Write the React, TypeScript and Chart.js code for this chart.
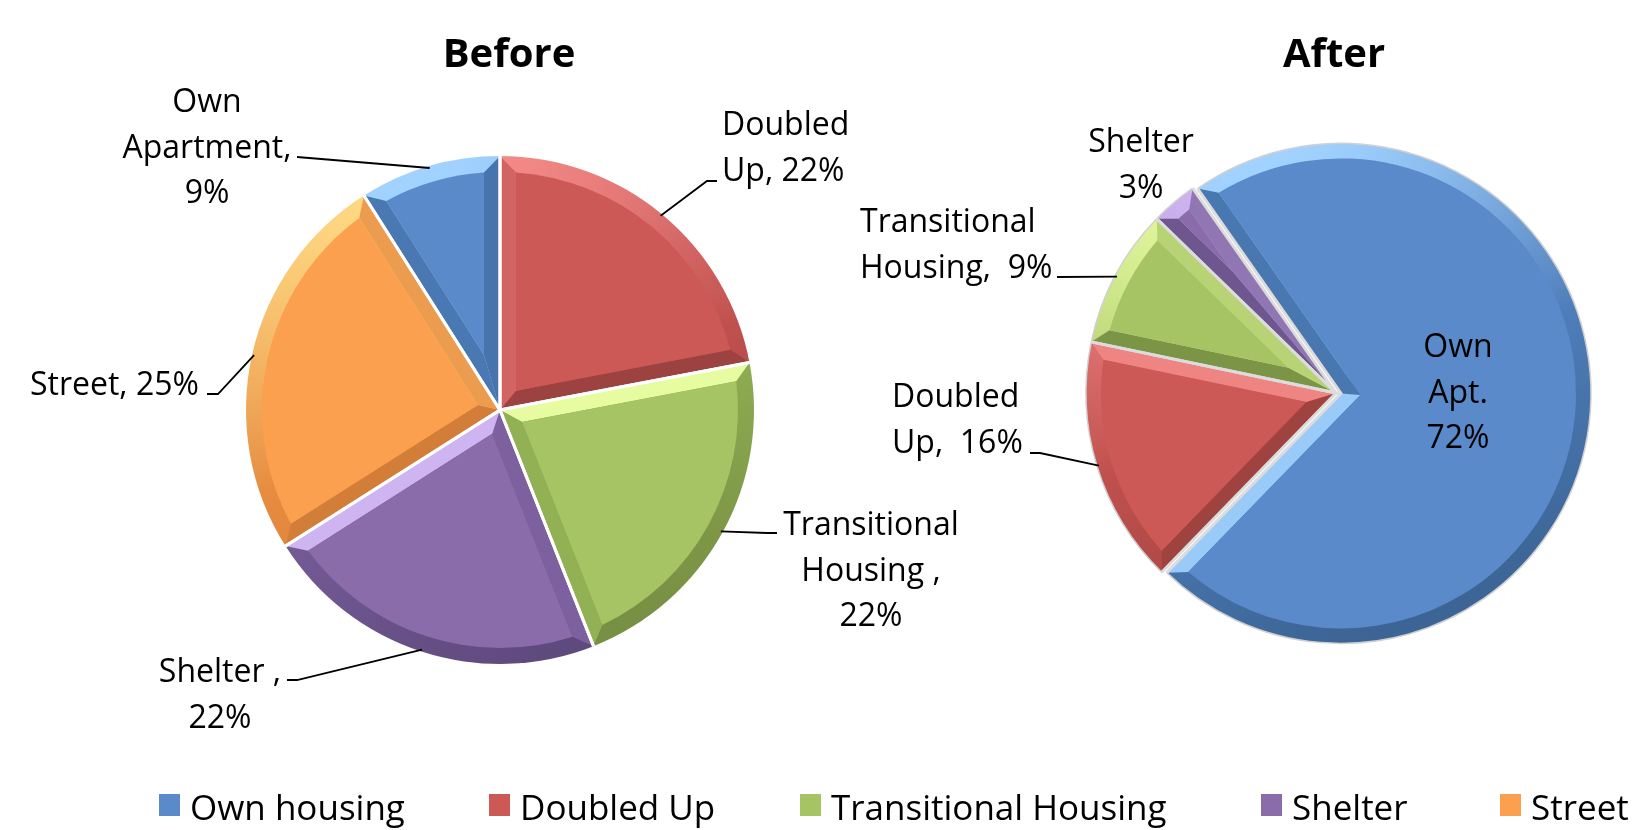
import React, { useEffect, useRef } from 'react';
import { Chart, registerables } from 'chart.js';
Chart.register(...registerables);

// ---------- data ----------
const categories = ['Own housing', 'Doubled Up', 'Transitional Housing', 'Shelter', 'Street'];
const beforeValues = [9, 22, 22, 22, 25];
const afterValues = [72, 16, 9, 3, 0];
const beforeLabelText = ['Own\nApartment,\n{v}%', 'Doubled\nUp, {v}%', 'Transitional\nHousing ,\n{v}%', 'Shelter ,\n{v}%', 'Street, {v}%'];
const afterLabelText = ['Own\nApt.\n{v}%', 'Doubled\nUp,  {v}%', 'Transitional\nHousing,  {v}%', 'Shelter\n{v}%', ''];
const chartTitles = ['Before', 'After'];

// ---------- style ----------
const W = 1637, H = 830;
const mainColors = ['#5A8ACA', '#CD5957', '#A6C463', '#8A6CAB', '#FBA04E'];
const palettes = [
  { light: '#A2D2FF', base: '#4E7DBA', dark: '#3C6494' },
  { light: '#F78E8C', base: '#BF504E', dark: '#9C4240' },
  { light: '#E8FCA2', base: '#93B254', dark: '#778F43' },
  { light: '#D0B6F2', base: '#7A5F9C', dark: '#5F4A7E' },
  { light: '#FFDA84', base: '#E68B40', dark: '#D37E38' },
];
const LIGHT = (-110 * Math.PI) / 180;
const LINE_H = 45.5;
const LABEL_FONT = '32px "Open Sans"';
const TITLE_FONT = 'bold 40px "Open Sans"';
const LEGEND_FONT = '35px "Open Sans"';

const BEFORE = { cx: 500, cy: 410, r: 254, bevel: 16, rotation: -32.4 };
const AFTER = { cx: 1336, cy: 393, r: 250, bevel: 15, rotation: -35 };
const afterExplode = [5, 0, 0, 0, 0];

const beforeLayout = [
  { x: 207, y: 112, align: 'center', line: [[297, 157]] },
  { x: 722, y: 135, align: 'left', line: [[717, 181], [707, 181]] },
  { x: 871, y: 535, align: 'center', line: [[777, 533], [767, 533]] },
  { x: 220, y: 682, align: 'center', line: [[287, 680], [297, 680]] },
  { x: 199, y: 395, align: 'right', line: [[207, 394], [218, 394]] },
];
const afterLayout = [
  { x: 1458, y: 357, align: 'center', line: null },
  { x: 892, y: 407, align: 'left', line: [[1030, 453], [1040, 453]] },
  { x: 860, y: 232, align: 'left', line: [[1057, 277]] },
  { x: 1141, y: 152, align: 'center', line: null },
  null,
];
const legendX = [159, 489, 800, 1261, 1500];

// ---------- helpers ----------
function hexToRgb(h: string) {
  const n = parseInt(h.slice(1), 16);
  return [(n >> 16) & 255, (n >> 8) & 255, n & 255];
}
function mix(a: string, b: string, t: number) {
  const A = hexToRgb(a), B = hexToRgb(b);
  return `rgb(${A.map((v, i) => Math.round(v + (B[i] - v) * t)).join(',')})`;
}
function shade(p: any, ang: number) {
  const t = Math.cos(ang - LIGHT);
  return t >= 0 ? mix(p.base, p.light, t) : mix(p.base, p.dark, -t);
}
function norm(a: number) {
  while (a > Math.PI) a -= 2 * Math.PI;
  while (a <= -Math.PI) a += 2 * Math.PI;
  return a;
}

const bevelPlugin = {
  id: 'bevel',
  afterDatasetsUpdate(chart: any, _a: any, opts: any) {
    const meta = chart.getDatasetMeta(0);
    const ex = opts.explode || [];
    meta.data.forEach((el: any, i: number) => {
      const e = ex[i] || 0;
      if (!e) return;
      const mid = (el.startAngle + el.endAngle) / 2;
      el.x += Math.cos(mid) * e;
      el.y += Math.sin(mid) * e;
    });
  },
  afterDatasetsDraw(chart: any, _a: any, opts: any) {
    const ctx = chart.ctx as CanvasRenderingContext2D;
    const meta = chart.getDatasetMeta(0);
    const d = opts.bevel;
    meta.data.forEach((el: any, i: number) => {
      const { x: cx, y: cy, startAngle: a0, endAngle: a1, outerRadius: R } = el;
      const span = a1 - a0;
      if (span < 1e-3) return;
      const p = palettes[i];
      const half = span / 2, mid = a0 + half;
      const s = d / Math.sin(half);
      const Ri = R - d;
      const px = cx + Math.cos(mid) * s, py = cy + Math.sin(mid) * s;
      const t = -s * Math.cos(half) + Math.sqrt(Ri * Ri - d * d);
      const c0x = px + Math.cos(a0) * t, c0y = py + Math.sin(a0) * t;
      const c1x = px + Math.cos(a1) * t, c1y = py + Math.sin(a1) * t;
      const b0 = a0 + norm(Math.atan2(c0y - cy, c0x - cx) - a0);
      const b1 = a1 + norm(Math.atan2(c1y - cy, c1x - cx) - a1);
      const o0x = cx + Math.cos(a0) * R, o0y = cy + Math.sin(a0) * R;
      const o1x = cx + Math.cos(a1) * R, o1y = cy + Math.sin(a1) * R;
      ctx.save();
      const g = (ctx as any).createConicGradient(0, cx, cy);
      for (let k = 0; k <= 36; k++) g.addColorStop(k / 36, shade(p, (k / 36) * 2 * Math.PI));
      ctx.beginPath();
      ctx.moveTo(cx, cy);
      ctx.arc(cx, cy, R, a0, a1);
      ctx.closePath();
      ctx.fillStyle = g;
      ctx.fill();
      ctx.beginPath();
      ctx.moveTo(cx, cy); ctx.lineTo(o0x, o0y); ctx.lineTo(c0x, c0y); ctx.lineTo(px, py); ctx.closePath();
      ctx.fillStyle = shade(p, a0 - Math.PI / 2);
      ctx.fill();
      ctx.beginPath();
      ctx.moveTo(cx, cy); ctx.lineTo(o1x, o1y); ctx.lineTo(c1x, c1y); ctx.lineTo(px, py); ctx.closePath();
      ctx.fillStyle = shade(p, a1 + Math.PI / 2);
      ctx.fill();
      if (s < Ri) {
        ctx.beginPath();
        ctx.moveTo(px, py); ctx.lineTo(c0x, c0y);
        ctx.arc(cx, cy, Ri, b0, b1);
        ctx.closePath();
        ctx.fillStyle = mainColors[i];
        ctx.fill();
      }
      ctx.restore();
    });
    ctx.save();
    if (opts.outline) {
      ctx.strokeStyle = opts.outline;
      ctx.lineWidth = 1.5;
      meta.data.forEach((el: any) => {
        if (el.endAngle - el.startAngle < 1e-3) return;
        ctx.beginPath();
        ctx.arc(el.x, el.y, el.outerRadius, el.startAngle, el.endAngle);
        ctx.stroke();
      });
    }
    ctx.strokeStyle = opts.sepColor;
    ctx.lineWidth = opts.sepWidth;
    ctx.lineCap = 'butt';
    meta.data.forEach((el: any) => {
      if (el.endAngle - el.startAngle < 1e-3) return;
      const { x: cx, y: cy, startAngle: a0, endAngle: a1, outerRadius: R } = el;
      ctx.beginPath();
      ctx.moveTo(cx + Math.cos(a0) * R, cy + Math.sin(a0) * R);
      ctx.lineTo(cx, cy);
      ctx.lineTo(cx + Math.cos(a1) * R, cy + Math.sin(a1) * R);
      ctx.stroke();
    });
    ctx.restore();
  },
};

const annotPlugin = {
  id: 'annot',
  afterDraw(chart: any, _a: any, opts: any) {
    const ctx = chart.ctx as CanvasRenderingContext2D;
    const meta = chart.getDatasetMeta(0);
    const values = chart.data.datasets[0].data;
    ctx.save();
    ctx.fillStyle = '#000';
    ctx.textBaseline = 'alphabetic';
    ctx.font = TITLE_FONT;
    ctx.textAlign = 'center';
    ctx.fillText(opts.title, opts.titleX, opts.titleY);
    ctx.font = LABEL_FONT;
    ctx.strokeStyle = '#000';
    ctx.lineWidth = 1.8;
    opts.layout.forEach((lay: any, i: number) => {
      const tmpl = opts.texts[i];
      if (!lay || !tmpl) return;
      const lines = tmpl.replace('{v}', String(values[i])).split('\n');
      ctx.textAlign = lay.align;
      lines.forEach((ln: string, k: number) => ctx.fillText(ln, lay.x, lay.y + k * LINE_H));
      if (lay.line) {
        const el = meta.data[i];
        const mid = (el.startAngle + el.endAngle) / 2;
        const ex = el.x + Math.cos(mid) * (el.outerRadius - 2);
        const ey = el.y + Math.sin(mid) * (el.outerRadius - 2);
        ctx.beginPath();
        ctx.moveTo(lay.line[0][0], lay.line[0][1]);
        for (let k = 1; k < lay.line.length; k++) ctx.lineTo(lay.line[k][0], lay.line[k][1]);
        ctx.lineTo(ex, ey);
        ctx.stroke();
      }
    });
    if (opts.legend) {
      ctx.font = LEGEND_FONT;
      ctx.textAlign = 'left';
      chart.data.labels.forEach((lab: string, i: number) => {
        const x = legendX[i];
        ctx.fillStyle = mainColors[i];
        ctx.fillRect(x, 794, 21, 22);
        ctx.fillStyle = '#000';
        ctx.fillText(lab, x + 31, 820);
      });
    }
    ctx.restore();
  },
};

function makeConfig(values: number[], geo: any, extra: any): any {
  return {
    type: 'pie',
    data: {
      labels: categories,
      datasets: [{ data: values, backgroundColor: mainColors, borderColor: '#fff', borderWidth: 2 }],
    },
    options: {
      animation: false,
      responsive: false,
      events: [],
      rotation: geo.rotation,
      radius: geo.r,
      layout: {
        padding: geo.padding,
      },
      plugins: {
        legend: { display: false },
        tooltip: { enabled: false },
        title: { display: false },
        bevel: { bevel: geo.bevel, explode: extra.explode, sepColor: extra.sepColor, sepWidth: extra.sepWidth, outline: extra.outline },
        annot: extra.annot,
      },
    },
    plugins: [bevelPlugin, annotPlugin],
  };
}

export default function App() {
  const r1 = useRef<HTMLCanvasElement>(null);
  const r2 = useRef<HTMLCanvasElement>(null);
  useEffect(() => {
    const c1 = new Chart(
      r1.current!,
      makeConfig(
        beforeValues,
        { ...BEFORE, padding: { left: 0, top: 0, right: W - 2 * BEFORE.cx, bottom: H - 2 * BEFORE.cy } },
        {
          explode: [],
          sepColor: '#ffffff',
          sepWidth: 3,
          outline: null,
          annot: { title: chartTitles[0], titleX: 509, titleY: 67, layout: beforeLayout, texts: beforeLabelText, legend: true },
        }
      )
    );
    const c2 = new Chart(
      r2.current!,
      makeConfig(
        afterValues,
        { ...AFTER, padding: { left: 2 * AFTER.cx - W, top: 0, right: 0, bottom: H - 2 * AFTER.cy } },
        {
          explode: afterExplode,
          sepColor: '#dcdcdc',
          sepWidth: 3,
          outline: '#d0d0d0',
          annot: { title: chartTitles[1], titleX: 1334, titleY: 67, layout: afterLayout, texts: afterLabelText, legend: false },
        }
      )
    );
    return () => {
      c1.destroy();
      c2.destroy();
    };
  }, []);
  return (
    <div style={{ position: 'absolute', left: 0, top: 0, width: W, height: H, background: '#fff', overflow: 'hidden' }}>
      <canvas ref={r1} width={W} height={H} style={{ position: 'absolute', left: 0, top: 0 }} />
      <canvas ref={r2} width={W} height={H} style={{ position: 'absolute', left: 0, top: 0 }} />
    </div>
  );
}
